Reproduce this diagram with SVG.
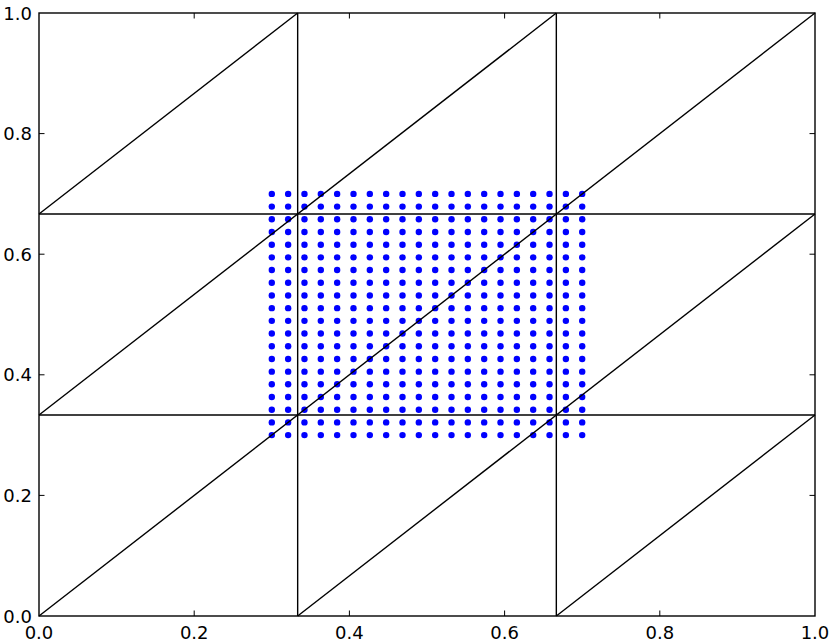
<svg xmlns="http://www.w3.org/2000/svg" xmlns:xlink="http://www.w3.org/1999/xlink" width="830" height="643" viewBox="0 0 830 643">
<style>
.ln{stroke:#000;stroke-width:1.4;fill:none}
.tk{stroke:#000;stroke-width:1;fill:none}
.dot{fill:#0000ff}
.lab{font-family:"DejaVu Sans",sans-serif;font-size:18px;fill:#000}
</style>
<defs>
<g id="row">
<circle class="dot" cx="271.80" cy="0" r="3.2"/><circle class="dot" cx="288.14" cy="0" r="3.2"/><circle class="dot" cx="304.47" cy="0" r="3.2"/><circle class="dot" cx="320.81" cy="0" r="3.2"/><circle class="dot" cx="337.15" cy="0" r="3.2"/><circle class="dot" cx="353.49" cy="0" r="3.2"/><circle class="dot" cx="369.82" cy="0" r="3.2"/><circle class="dot" cx="386.16" cy="0" r="3.2"/><circle class="dot" cx="402.50" cy="0" r="3.2"/><circle class="dot" cx="418.83" cy="0" r="3.2"/><circle class="dot" cx="435.17" cy="0" r="3.2"/><circle class="dot" cx="451.51" cy="0" r="3.2"/><circle class="dot" cx="467.84" cy="0" r="3.2"/><circle class="dot" cx="484.18" cy="0" r="3.2"/><circle class="dot" cx="500.52" cy="0" r="3.2"/><circle class="dot" cx="516.86" cy="0" r="3.2"/><circle class="dot" cx="533.19" cy="0" r="3.2"/><circle class="dot" cx="549.53" cy="0" r="3.2"/><circle class="dot" cx="565.87" cy="0" r="3.2"/><circle class="dot" cx="582.20" cy="0" r="3.2"/>
</g>
</defs>
<rect width="830" height="643" fill="#fff"/>
<g id="points">
<use xlink:href="#row" href="#row" y="435.10"/><use xlink:href="#row" href="#row" y="422.41"/><use xlink:href="#row" href="#row" y="409.71"/><use xlink:href="#row" href="#row" y="397.02"/><use xlink:href="#row" href="#row" y="384.32"/><use xlink:href="#row" href="#row" y="371.63"/><use xlink:href="#row" href="#row" y="358.93"/><use xlink:href="#row" href="#row" y="346.24"/><use xlink:href="#row" href="#row" y="333.54"/><use xlink:href="#row" href="#row" y="320.85"/><use xlink:href="#row" href="#row" y="308.15"/><use xlink:href="#row" href="#row" y="295.46"/><use xlink:href="#row" href="#row" y="282.76"/><use xlink:href="#row" href="#row" y="270.07"/><use xlink:href="#row" href="#row" y="257.37"/><use xlink:href="#row" href="#row" y="244.68"/><use xlink:href="#row" href="#row" y="231.98"/><use xlink:href="#row" href="#row" y="219.29"/><use xlink:href="#row" href="#row" y="206.59"/><use xlink:href="#row" href="#row" y="193.90"/>
</g>
<g id="mesh">
<line class="ln" x1="297.67" y1="13" x2="297.67" y2="616"/>
<line class="ln" x1="556.33" y1="13" x2="556.33" y2="616"/>
<line class="ln" x1="39" y1="415" x2="815" y2="415"/>
<line class="ln" x1="39" y1="214" x2="815" y2="214"/>
<line class="ln" x1="39" y1="616" x2="815" y2="13"/>
<line class="ln" x1="39" y1="415" x2="556.33" y2="13"/>
<line class="ln" x1="39" y1="214" x2="297.67" y2="13"/>
<line class="ln" x1="297.67" y1="616" x2="815" y2="214"/>
<line class="ln" x1="556.33" y1="616" x2="815" y2="415"/>
</g>
<g id="axes">
<rect class="ln" x="39" y="13" width="776" height="603"/>
<path class="tk" d="M194.2 616v-5.5M349.4 616v-5.5M504.6 616v-5.5M659.8 616v-5.5M194.2 13v5.5M349.4 13v5.5M504.6 13v5.5M659.8 13v5.5M39 495.4h5.5M39 374.8h5.5M39 254.2h5.5M39 133.6h5.5M815 495.4h-5.5M815 374.8h-5.5M815 254.2h-5.5M815 133.6h-5.5"/>
<g class="lab" text-anchor="middle">
<text x="39" y="639">0.0</text>
<text x="194.2" y="639">0.2</text>
<text x="349.4" y="639">0.4</text>
<text x="504.6" y="639">0.6</text>
<text x="659.8" y="639">0.8</text>
<text x="815" y="639">1.0</text>
</g>
<g class="lab" text-anchor="end">
<text x="32" y="622.5">0.0</text>
<text x="32" y="501.9">0.2</text>
<text x="32" y="381.3">0.4</text>
<text x="32" y="260.7">0.6</text>
<text x="32" y="140.1">0.8</text>
<text x="32" y="19.5">1.0</text>
</g>
</g>
</svg>
